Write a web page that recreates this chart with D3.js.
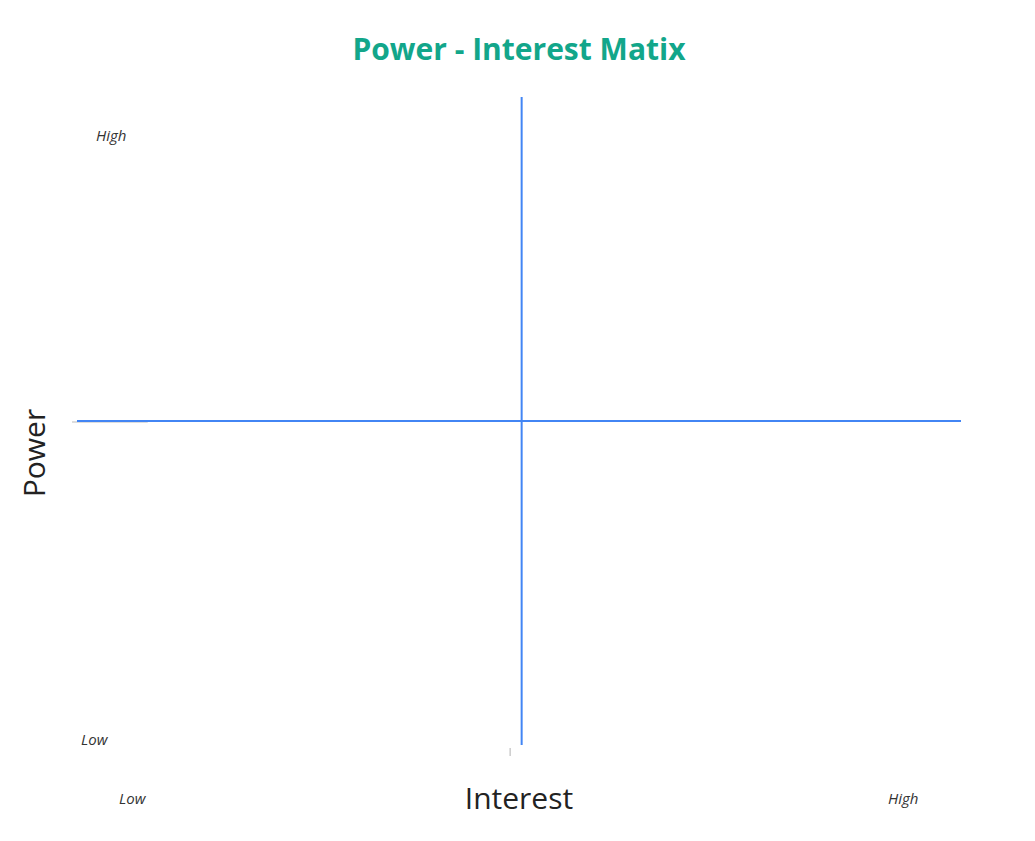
<!DOCTYPE html>
<html>
<head>
<meta charset="utf-8">
<script src="https://cdn.jsdelivr.net/npm/d3@7"></script>
<style>
  body { margin: 0; background: #fff; }
  text { font-family: "Open Sans", sans-serif; }
</style>
</head>
<body>
<div id="chart"></div>
<script>
// quadrant dividers (interest / power, 0-10)
var interestDomain = [0, 10];
var powerDomain = [0, 10];
var hDivider = { power: 5, interest: [0, 10] };
var vDivider = { interest: 5.03, power: [0, 10] };
var lowHigh = ["Low", "High"];

var width = 1035, height = 841;
var svg = d3.select("#chart").append("svg")
    .attr("width", width)
    .attr("height", height);

var x = d3.scaleLinear().domain(interestDomain).range([77, 961]);
var y = d3.scaleLinear().domain(powerDomain).range([745, 97]);

// faint zero line / tick left over from the axes
svg.append("line")
    .attr("x1", x(0) - 5).attr("x2", x(0.8))
    .attr("y1", y(5) + 1).attr("y2", y(5) + 1)
    .attr("stroke", "#ddd").attr("stroke-width", 2);
svg.append("line")
    .attr("x1", x(4.9)).attr("x2", x(4.9))
    .attr("y1", y(0) + 3).attr("y2", y(0) + 11)
    .attr("stroke", "#ccc").attr("stroke-width", 1.5);

svg.append("line")
    .attr("x1", x(hDivider.interest[0])).attr("x2", x(hDivider.interest[1]))
    .attr("y1", y(hDivider.power)).attr("y2", y(hDivider.power))
    .attr("stroke", "#4285f4").attr("stroke-width", 2);
svg.append("line")
    .attr("x1", x(vDivider.interest)).attr("x2", x(vDivider.interest))
    .attr("y1", y(vDivider.power[0])).attr("y2", y(vDivider.power[1]))
    .attr("stroke", "#4285f4").attr("stroke-width", 2);

// title
svg.append("text")
    .attr("x", 519).attr("y", 60)
    .attr("text-anchor", "middle")
    .attr("font-size", 30)
    .attr("font-weight", "bold")
    .attr("fill", "#12a68a")
    .text("Power - Interest Matix");

// axis titles
svg.append("text")
    .attr("x", 519).attr("y", 809)
    .attr("text-anchor", "middle")
    .attr("font-size", 30)
    .attr("fill", "#222")
    .text("Interest");
svg.append("text")
    .attr("transform", "translate(45,453) rotate(-90)")
    .attr("text-anchor", "middle")
    .attr("font-size", 30)
    .attr("fill", "#222")
    .text("Power");

// low / high annotations
var notes = [
    { t: lowHigh[1], x: 96, y: 141 },
    { t: lowHigh[0], x: 81, y: 745 },
    { t: lowHigh[0], x: 119, y: 804 },
    { t: lowHigh[1], x: 888, y: 804 }
];
svg.selectAll(".note")
    .data(notes)
    .enter().append("text")
    .attr("class", "note")
    .attr("x", d => d.x).attr("y", d => d.y)
    .attr("font-size", 15)
    .attr("font-style", "italic")
    .attr("fill", "#333")
    .text(d => d.t);
</script>
</body>
</html>
